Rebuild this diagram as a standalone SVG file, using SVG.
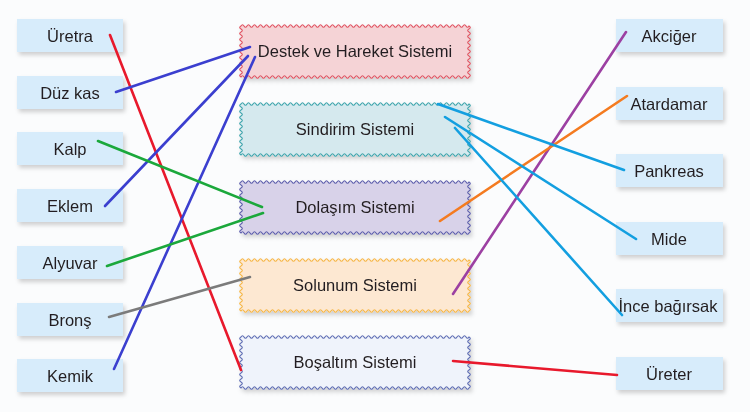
<svg xmlns="http://www.w3.org/2000/svg" xmlns:xlink="http://www.w3.org/1999/xlink" width="750" height="412" viewBox="0 0 750 412">
<style>
text{font-family:"Liberation Sans",Arial,sans-serif;font-size:16.5px;fill:#231f20;text-anchor:middle;dominant-baseline:central}
.term rect{fill:#d7ecfb}
.sys use{stroke-width:1.1}
.c line{stroke-width:2.6;stroke-linecap:round;fill:none}
</style>
<defs>
<filter id="sh" x="-10%" y="-20%" width="130%" height="160%"><feDropShadow dx="2" dy="3" stdDeviation="2" flood-color="#000" flood-opacity="0.18"/></filter>
<path id="wave" d="M0,0 q1.5,-2.6 3,0
t3,0 t3,0 t3,0 t3,0 t3,0 t3,0 t3,0 t3,0 t3,0 t3,0
t3,0 t3,0 t3,0 t3,0 t3,0 t3,0 t3,0 t3,0 t3,0 t3,0
t3,0 t3,0 t3,0 t3,0 t3,0 t3,0 t3,0 t3,0 t3,0 t3,0
t3,0 t3,0 t3,0 t3,0 t3,0 t3,0 t3,0 t3,0 t3,0 t3,0
t3,0 t3,0 t3,0 t3,0 t3,0 t3,0 t3,0 t3,0 t3,0 t3,0
t3,0 t3,0 t3,0 t3,0 t3,0 t3,0 t3,0 t3,0 t3,0 t3,0
t3,0 t3,0 t3,0 t3,0 t3,0 t3,0 t3,0 t3,0 t3,0 t3,0
t3,0 t3,0 t3,0 t3,0 t3,0
q2.6,1.5 0,3
t0,3 t0,3 t0,3 t0,3 t0,3 t0,3 t0,3 t0,3 t0,3 t0,3
t0,3 t0,3 t0,3 t0,3 t0,3 t0,3
q-1.5,2.6 -3,0
t-3,0 t-3,0 t-3,0 t-3,0 t-3,0 t-3,0 t-3,0 t-3,0 t-3,0 t-3,0
t-3,0 t-3,0 t-3,0 t-3,0 t-3,0 t-3,0 t-3,0 t-3,0 t-3,0 t-3,0
t-3,0 t-3,0 t-3,0 t-3,0 t-3,0 t-3,0 t-3,0 t-3,0 t-3,0 t-3,0
t-3,0 t-3,0 t-3,0 t-3,0 t-3,0 t-3,0 t-3,0 t-3,0 t-3,0 t-3,0
t-3,0 t-3,0 t-3,0 t-3,0 t-3,0 t-3,0 t-3,0 t-3,0 t-3,0 t-3,0
t-3,0 t-3,0 t-3,0 t-3,0 t-3,0 t-3,0 t-3,0 t-3,0 t-3,0 t-3,0
t-3,0 t-3,0 t-3,0 t-3,0 t-3,0 t-3,0 t-3,0 t-3,0 t-3,0 t-3,0
t-3,0 t-3,0 t-3,0 t-3,0 t-3,0
q-2.6,-1.5 0,-3
t0,-3 t0,-3 t0,-3 t0,-3 t0,-3 t0,-3 t0,-3 t0,-3 t0,-3 t0,-3
t0,-3 t0,-3 t0,-3 t0,-3 t0,-3 t0,-3 z"/>
</defs>
<rect width="750" height="412" fill="#fbfcfd"/>

<g id="left-terms" class="term">
<g id="uretra" filter="url(#sh)"><rect x="17" y="19" width="106" height="33"/><text x="70" y="36">Üretra</text></g>
<g id="duzkas" filter="url(#sh)"><rect x="17" y="76" width="106" height="33"/><text x="70" y="93">Düz kas</text></g>
<g id="kalp" filter="url(#sh)"><rect x="17" y="132" width="106" height="33"/><text x="70" y="149">Kalp</text></g>
<g id="eklem" filter="url(#sh)"><rect x="17" y="189" width="106" height="33"/><text x="70" y="206">Eklem</text></g>
<g id="alyuvar" filter="url(#sh)"><rect x="17" y="246" width="106" height="33"/><text x="70" y="263">Alyuvar</text></g>
<g id="brons" filter="url(#sh)"><rect x="17" y="303" width="106" height="33"/><text x="70" y="320">Bronş</text></g>
<g id="kemik" filter="url(#sh)"><rect x="17" y="359" width="106" height="33"/><text x="70" y="376">Kemik</text></g>
</g>

<g id="right-terms" class="term">
<g id="akciger" filter="url(#sh)"><rect x="616" y="19" width="107" height="33"/><text x="669" y="36">Akciğer</text></g>
<g id="atardamar" filter="url(#sh)"><rect x="616" y="87" width="107" height="33"/><text x="669" y="104">Atardamar</text></g>
<g id="pankreas" filter="url(#sh)"><rect x="616" y="154" width="107" height="33"/><text x="669" y="171">Pankreas</text></g>
<g id="mide" filter="url(#sh)"><rect x="616" y="222" width="107" height="33"/><text x="669" y="239">Mide</text></g>
<g id="ince" filter="url(#sh)"><rect x="616" y="289" width="107" height="33"/><text x="668" y="306">İnce bağırsak</text></g>
<g id="ureter" filter="url(#sh)"><rect x="616" y="357" width="107" height="33"/><text x="669" y="374">Üreter</text></g>
</g>

<g id="systems" class="sys">
<g id="destek" filter="url(#sh)"><use xlink:href="#wave" x="241" y="26" fill="#f5d3d6" stroke="#e0515f"/><text x="355" y="51">Destek ve Hareket Sistemi</text></g>
<g id="sindirim" filter="url(#sh)"><use xlink:href="#wave" x="241" y="104" fill="#d5e9ee" stroke="#3aa3ab"/><text x="355" y="129">Sindirim Sistemi</text></g>
<g id="dolasim" filter="url(#sh)"><use xlink:href="#wave" x="241" y="182" fill="#d8d2e9" stroke="#5b5cab"/><text x="355" y="207">Dolaşım Sistemi</text></g>
<g id="solunum" filter="url(#sh)"><use xlink:href="#wave" x="241" y="260" fill="#fde8d2" stroke="#f7b543"/><text x="355" y="285">Solunum Sistemi</text></g>
<g id="bosaltim" filter="url(#sh)"><use xlink:href="#wave" x="241" y="337" fill="#eff3fb" stroke="#5c6bb3"/><text x="355" y="362">Boşaltım Sistemi</text></g>
</g>

<g id="connectors" class="c">
<line x1="110" y1="35" x2="241" y2="370" stroke="#e8192c"/>
<line x1="116" y1="92" x2="250" y2="47" stroke="#3b3fcf"/>
<line x1="105" y1="206" x2="248" y2="56" stroke="#3b3fcf"/>
<line x1="114" y1="369" x2="255" y2="57" stroke="#3b3fcf"/>
<line x1="98" y1="141" x2="262" y2="207" stroke="#1ba83b"/>
<line x1="107" y1="266" x2="263" y2="213" stroke="#1ba83b"/>
<line x1="109" y1="317" x2="250" y2="277" stroke="#7b7b7b"/>
<line x1="626" y1="32" x2="453" y2="294" stroke="#9c40a2"/>
<line x1="627" y1="96" x2="440" y2="221" stroke="#f47b20"/>
<line x1="438" y1="104" x2="624" y2="170" stroke="#139fe0"/>
<line x1="445" y1="117" x2="636" y2="239" stroke="#139fe0"/>
<line x1="455" y1="128" x2="622" y2="315" stroke="#139fe0"/>
<line x1="453" y1="361" x2="617" y2="375" stroke="#e8192c"/>
</g>
</svg>
